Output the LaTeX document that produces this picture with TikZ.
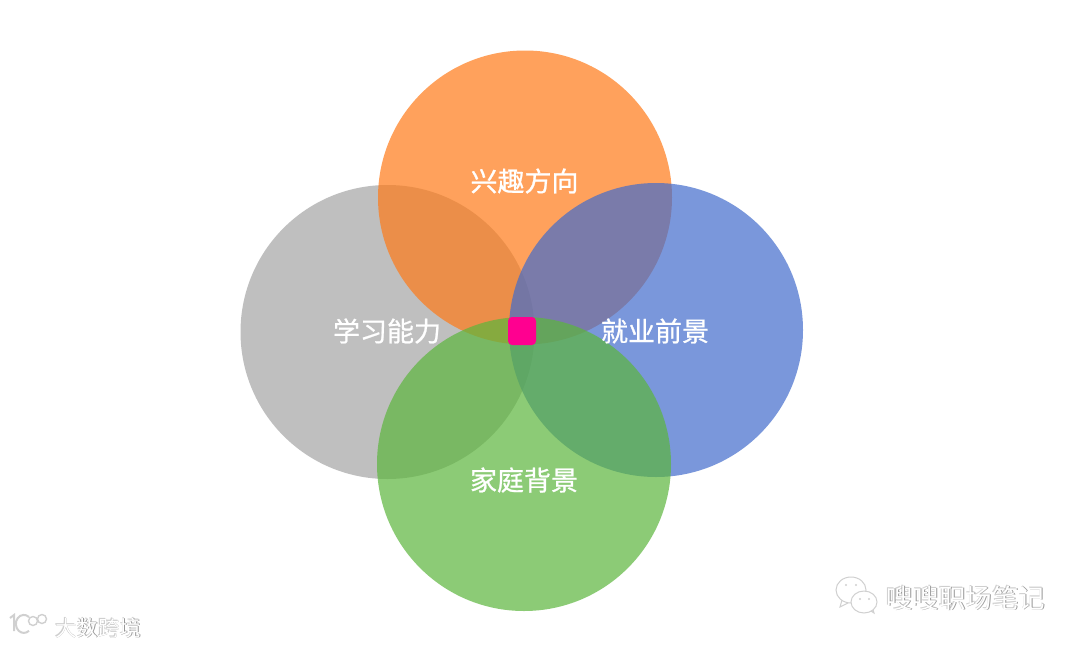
\documentclass[tikz,border=0pt]{standalone}
\usepackage{fontspec}
\setmainfont{Noto Sans CJK SC}
\newfontfamily\labfont[FakeBold=0.8]{Noto Sans CJK SC}
\definecolor{cgray}{HTML}{A5A5A5}
\definecolor{corange}{HTML}{FF7A17}
\definecolor{cblue}{HTML}{426CCC}
\definecolor{cgreen}{HTML}{5CB63C}
\definecolor{cpink}{HTML}{FF0090}
\definecolor{wmark}{HTML}{989898}
\definecolor{wmarkl}{HTML}{D0D0D0}
\tikzset{
  venn/.style={circle,minimum size=294pt,inner sep=0pt,fill opacity=.7,draw=none},
  lab/.style={text=white,font=\labfont\fontsize{27}{27}\selectfont,inner sep=0pt},
  wm/.style={text=white,font=\fontsize{26.5}{26.5}\selectfont,inner sep=0pt,anchor=west},
  wmsh/.style={wm,text=wmark},
  wmlt/.style={wm,text=wmarkl},
  wms/.style={text=white,font=\fontsize{21.5}{21.5}\selectfont,inner sep=0pt,anchor=west},
  wmssh/.style={wms,text=wmark},
  wmslt/.style={wms,text=wmarkl},
  iconline/.style={draw=wmarkl,line width=1pt,fill=white},
  eye/.style={fill=wmarkl,draw=none}
}
\begin{document}
\begin{tikzpicture}[x=1pt,y=-1pt]
\useasboundingbox (0,0) rectangle (1080,646);
\fill[white] (0,0) rectangle (1080,646);
\node[venn,fill=cgray] (left) at (387.5,332) {};
\node[venn,fill=corange] (top) at (525,197.5) {};
\node[venn,fill=cblue] (right) at (656,330) {};
\node[venn,fill=cgreen] (bottom) at (524,464) {};
\node[fill=cpink,rounded corners=4pt,minimum size=28pt,inner sep=0pt] (core) at (522,331) {};
\node[lab] (ltop) at (524.5,181) {兴趣方向};
\node[lab] (lleft) at (387,331) {学习能力};
\node[lab] (lright) at (655,331) {就业前景};
\node[lab] (lbottom) at (524,480) {家庭背景};
% WeChat-style watermark
\draw[iconline] (842,600) -- (840,607) -- (848,603);
\draw[iconline] (851,590) ellipse (15pt and 13pt);
\draw[iconline] (868,609) -- (874,613) -- (872,606);
\draw[iconline] (864,602) ellipse (13pt and 11pt);
\fill[eye] (846,585) circle (1.2pt) (856,585) circle (1.2pt) (860,599) circle (1.2pt) (869,599) circle (1.2pt);
\node[wmlt] (wc) at (885.3,597.3) {嗖嗖职场笔记};
\node[wmsh] (wa) at (886.8,598.8) {嗖嗖职场笔记};
\node[wm] (wb) at (886,598) {嗖嗖职场笔记};
% Bottom-left watermark
\node[wmslt] (xc) at (54.3,627.3) {大数跨境};
\node[wmssh] (xa) at (55.7,628.7) {大数跨境};
\node[wms] (xb) at (55,628) {大数跨境};
\draw[wmarkl,line width=2pt] (10,618) -- (14,615) -- (14,631);
\draw[wmarkl,line width=2pt] (29,617) arc (50:310:8pt and 9pt);
\draw[wmarkl,line width=1.4pt] (33,621) circle (4.5pt);
\draw[wmarkl,line width=1.4pt] (42,619) circle (4.5pt);
\end{tikzpicture}
\end{document}
